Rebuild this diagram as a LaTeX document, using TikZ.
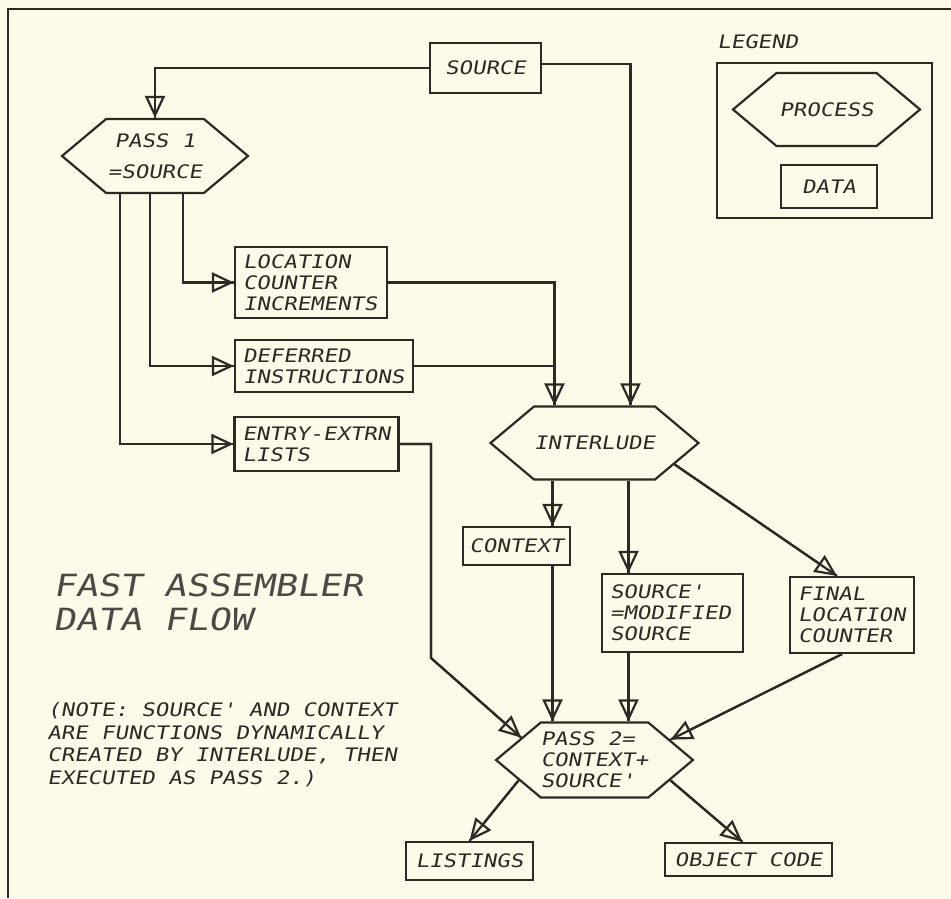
\documentclass[tikz,border=0pt]{standalone}
\usepackage{fontspec}
\usepackage{xcolor}
\usetikzlibrary{arrows.meta, positioning, shapes.symbols}
\newfontfamily\plotfont[FakeStretch=1.2,FakeSlant=0.18]{DejaVu Sans Mono}
\definecolor{paper}{HTML}{FCFAE8}
\definecolor{ink}{HTML}{2B2A24}

\begin{document}
\begin{tikzpicture}[
    x=0.5pt, y=-0.5pt,
    every node/.style={font=\plotfont\fontsize{9.3}{10.5}\selectfont, text=ink},
    databox/.style={draw=ink, line width=1.1pt, inner xsep=4pt, inner ysep=2pt, align=left},
    labelbox/.style={draw=ink, line width=1.1pt, inner sep=2pt, align=center},
    process/.style={signal, signal to=east and west, signal pointer angle=80, draw=ink, line width=1.1pt, inner sep=0pt},
    flow/.style={draw=ink, line width=1.1pt, -{Triangle[open,length=11pt,width=10pt]}, postaction={draw=ink, -}},
    wire/.style={draw=ink, line width=1.1pt}
]
\fill[paper] (0,0) rectangle (951,898);
\useasboundingbox (0,0) rectangle (951,898);

% frame
\draw[wire] (951,9) -- (8,9) -- (8,898);

\node[labelbox, minimum width=55.5pt, minimum height=25pt] (src) at (485.5,68) {SOURCE};

\node[process, minimum width=93pt, minimum height=37pt, align=center] (pass1) at (155,156) {PASS 1\\[5pt]=SOURCE};

\node[databox, text width=68pt, minimum height=35.5pt] (lci) at (311,282.5) {LOCATION\\COUNTER\\INCREMENTS};
\node[databox, text width=81pt, minimum height=26pt] (def) at (324,366) {DEFERRED\\INSTRUCTIONS};
\node[databox, text width=74pt, minimum height=27pt] (ent) at (316.5,444) {ENTRY-EXTRN\\LISTS};

\node[process, minimum width=92.5pt, minimum height=36.5pt] (inter) at (594.5,443) {INTERLUDE};

\node[labelbox, minimum width=53.5pt, minimum height=19pt] (ctx) at (516.5,546) {CONTEXT};
\node[databox, text width=62.5pt, minimum height=39pt] (srcp) at (672.5,613) {SOURCE'\\=MODIFIED\\SOURCE};
\node[databox, text width=54pt, minimum height=38pt] (fin) at (852,615) {FINAL\\LOCATION\\COUNTER};

\node[process, minimum width=92.5pt, minimum height=37.5pt, align=left] (pass2) at (594.5,760) {PASS 2=\\CONTEXT+\\SOURCE'};

\node[labelbox, minimum width=63.5pt, minimum height=19pt] (lst) at (469.5,861) {LISTINGS};
\node[labelbox, minimum width=83.5pt, minimum height=16.5pt] (obj) at (748.5,859.5) {OBJECT CODE};

% legend
\node[anchor=north west, inner sep=0pt] (legtitle) at (717,34) {LEGEND};
\node[draw=ink, line width=1.1pt, minimum width=107.5pt, minimum height=77.5pt] (legbox) at (824.5,140.5) {};
\node[process, minimum width=93.5pt, minimum height=36.5pt] (legproc) at (826.5,109.5) {PROCESS};
\node[labelbox, minimum width=48pt, minimum height=21.5pt] (legdata) at (829,186.5) {DATA};

\node[anchor=north west, inner sep=0pt, align=left, font=\plotfont\fontsize{15.3}{17}\selectfont, text=ink!85] (title) at (53,573) {FAST ASSEMBLER\\DATA FLOW};
\node[anchor=north west, inner sep=0pt, align=left, font=\plotfont\fontsize{9.3}{11.25}\selectfont] (note) at (47,702) {(NOTE: SOURCE' AND CONTEXT\\ARE FUNCTIONS DYNAMICALLY\\CREATED BY INTERLUDE, THEN\\EXECUTED AS PASS 2.)};

% source into pass 1 and interlude
\draw[flow] (src.west) -| (pass1.north);
\draw[flow] ([yshift=2pt]src.east) -| ([xshift=18pt]inter.north);

% pass 1 outputs
\draw[flow] ([xshift=14pt]pass1.south) |- (lci.west);
\draw[flow] ([xshift=-2.5pt]pass1.south) |- (def.west);
\draw[flow] ([xshift=-17.5pt]pass1.south) |- (ent.west);

\coordinate (join) at ([xshift=-20pt]inter.north);
\draw[flow] (lci.east) -| (join);
\draw[wire] (def.east) -- (def.east -| join);
\coordinate (bend) at (431,658);
\draw[flow] (ent.east) -| (bend) -- (pass2.163);

% interlude outputs
\coordinate (ctxtap) at ([xshift=-21pt]inter.south);
\coordinate (srctap) at ([xshift=17pt]inter.south);
\draw[flow] (ctxtap) -- (ctxtap |- ctx.north);
\draw[flow] (srctap) -- (srctap |- srcp.north);
\draw[flow] (inter.-15) -- ([xshift=-7.5pt]fin.north);

% into pass 2
\draw[flow] (ctxtap |- ctx.south) -- (ctxtap |- pass2.north);
\draw[flow] (srctap |- srcp.south) -- (srctap |- pass2.north);
\draw[flow] ([xshift=-5pt]fin.south) -- (pass2.15);

% pass 2 outputs
\draw[flow] (pass2.195) -- (lst.north);
\draw[flow] (pass2.345) -- ([xshift=-3pt]obj.north);

\end{tikzpicture}
\end{document}
